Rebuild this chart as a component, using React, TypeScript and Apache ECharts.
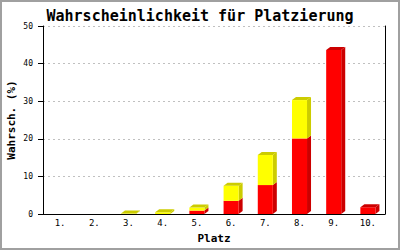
import React, { useEffect, useRef } from "react";
import * as echarts from "echarts";

const categories = ["1.", "2.", "3.", "4.", "5.", "6.", "7.", "8.", "9.", "10."];
const redValues = [0, 0, 0, 0, 0.9, 3.5, 7.7, 20.1, 43.6, 1.8];
const yellowValues = [0, 0, 0.1, 0.45, 0.8, 4.0, 8.0, 10.2, 0, 0];

const RED = "#ff0000";
const RED_DARK = "#cc0000";
const YEL = "#ffff00";
const YEL_DARK = "#cccc00";
const MONO = "'DejaVu Sans Mono', 'Liberation Mono', monospace";

export default function App() {
  const ref = useRef<HTMLDivElement>(null);
  useEffect(() => {
    if (!ref.current) return;
    const chart = echarts.init(ref.current, null, { renderer: "svg" });
    const data = categories.map((_, i) => [i, redValues[i], yellowValues[i]]);
    const dx = 4;
    const dy = 3;
    const renderItem = (params: any, api: any) => {
      const idx = api.value(0);
      const r = api.value(1);
      const y = api.value(2);
      const base = api.coord([idx, 0]);
      const rTop = api.coord([idx, r]);
      const tTop = api.coord([idx, r + y]);
      const w = api.size([1, 0])[0] * 0.44;
      const L = base[0] - w / 2;
      const R = base[0] + w / 2;
      const bottom = base[1];
      const children: any[] = [];
      const seg = (top: number, bot: number, c: string, dc: string) => {
        if (bot - top <= 0) return;
        children.push({
          type: "polygon",
          shape: { points: [[R, top], [R + dx, top - dy], [R + dx, bot - dy], [R, bot]] },
          style: { fill: dc },
        });
        children.push({
          type: "rect",
          shape: { x: L, y: top, width: w, height: bot - top },
          style: { fill: c },
        });
      };
      seg(rTop[1], bottom, RED, RED_DARK);
      seg(tTop[1], rTop[1], YEL, YEL_DARK);
      if (r + y > 0) {
        const dc = y > 0 ? YEL_DARK : RED_DARK;
        children.push({
          type: "polygon",
          shape: { points: [[L, tTop[1]], [L + dx, tTop[1] - dy], [R + dx, tTop[1] - dy], [R, tTop[1]]] },
          style: { fill: dc },
        });
      }
      return { type: "group", children };
    };
    chart.setOption({
      animation: false,
      backgroundColor: "#ffffff",
      title: {
        text: "Wahrscheinlichkeit für Platzierung",
        left: "center",
        top: 3,
        textStyle: { fontFamily: MONO, fontSize: 15, fontWeight: "bold", color: "#000" },
      },
      graphic: [
        {
          type: "rect",
          shape: { x: 1, y: 1, width: 398, height: 248 },
          style: { fill: "none", stroke: "#a0a0a0", lineWidth: 2 },
          silent: true,
        },
      ],
      grid: { left: 43, right: 15, top: 26, bottom: 36, outerBoundsMode: "none", containLabel: false },
      xAxis: {
        type: "category",
        data: categories,
        name: "Platz",
        nameLocation: "middle",
        nameGap: 19,
        nameMoveOverlap: false,
        nameTextStyle: { fontFamily: MONO, fontSize: 11, fontWeight: "bold", color: "#000" },
        axisLine: { lineStyle: { color: "#000", width: 1 } },
        axisTick: { show: false },
        axisLabel: { fontFamily: MONO, fontSize: 9, color: "#000", margin: 4 },
      },
      yAxis: [
        {
          type: "value",
          min: 0,
          max: 50,
          interval: 10,
          name: "Wahrsch. (%)",
          nameLocation: "middle",
          nameGap: 26,
          nameMoveOverlap: false,
          nameTextStyle: { fontFamily: MONO, fontSize: 11, fontWeight: "bold", color: "#000" },
          axisLine: { show: true, lineStyle: { color: "#000", width: 1 } },
          axisTick: { show: true, length: 5, lineStyle: { color: "#000" } },
          axisLabel: { fontFamily: MONO, fontSize: 8, color: "#000", margin: 10 },
          splitLine: { show: true, lineStyle: { color: "#c0c0c0", type: [2, 3], width: 1 } },
        },
        {
          type: "value",
          min: 0,
          max: 50,
          interval: 10,
          position: "right",
          axisLine: { show: true, lineStyle: { color: "#000", width: 1 } },
          axisTick: { show: false },
          axisLabel: { show: false },
          splitLine: { show: false },
        },
      ],
      series: [
        {
          type: "custom",
          renderItem,
          data,
          encode: { x: 0, y: 1 },
          clip: false,
        },
      ],
    });
    return () => chart.dispose();
  }, []);
  return (
    <div
      ref={ref}
      style={{ position: "fixed", left: 0, top: 0, width: 400, height: 250 }}
    />
  );
}
